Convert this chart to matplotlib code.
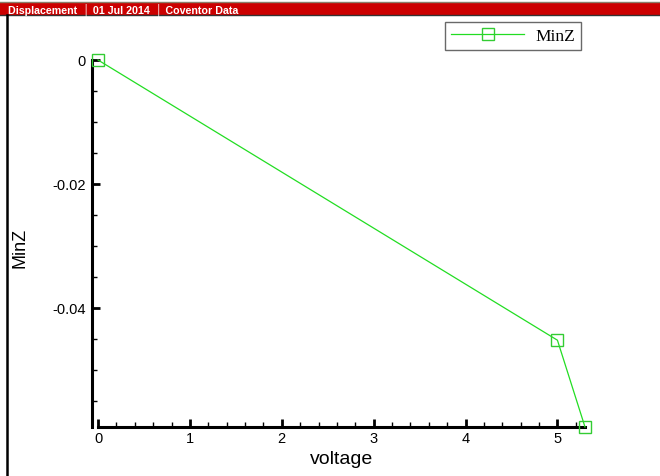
import matplotlib
matplotlib.use("Agg")
import matplotlib.pyplot as plt
from matplotlib.patches import Rectangle
from matplotlib.lines import Line2D
from matplotlib.ticker import MultipleLocator

voltage = [0.0, 5.0, 5.3]
minz = [0.0, -0.0452, -0.0592]
series_name = "MinZ"
x_label = "voltage"
y_label = "MinZ"
header = "Displacement  \u2502 01 Jul 2014  \u2502 Coventor Data"

W, H = 660, 477
fig = plt.figure(figsize=(W / 100, H / 100), dpi=100)
fig.patch.set_facecolor("white")

def fx(px):
    return px / W

def fy(py):
    return 1 - py / H

# header bar
fig.patches.append(Rectangle((0, fy(16)), 1, (13) / H, transform=fig.transFigure,
                             facecolor="#CC0000", edgecolor="none", zorder=0))
fig.lines.append(Line2D([0, 1], [fy(2.5), fy(2.5)], transform=fig.transFigure,
                        color="#8a7f6a", lw=1.0))
fig.lines.append(Line2D([0, 1], [fy(16), fy(16)], transform=fig.transFigure,
                        color="#333333", lw=1.0))
fig.lines.append(Line2D([fx(7), fx(7)], [0, fy(16)], transform=fig.transFigure,
                        color="black", lw=1.8))
fig.text(fx(8), fy(10), header, color="white", fontsize=7.7, fontweight="bold",
         family="Liberation Sans", va="center", ha="left")

left, right, top, bottom = 98, 585, 61, 428
ax = fig.add_axes([fx(left), fy(bottom), (right - left) / W, (bottom - top) / H])
ax.plot(voltage, minz, color="#22dd22", lw=0.9, marker="s", markersize=8.5,
        markerfacecolor="none", markeredgecolor="#33cc33", markeredgewidth=1.0,
        clip_on=False, label=series_name, zorder=5)
ax.set_xlim(0, 5.3)
ax.set_ylim(-0.0592, 0)

for s in ["top", "right"]:
    ax.spines[s].set_visible(False)
ax.spines["left"].set_position(("outward", 4))
ax.spines["left"].set_linewidth(2.2)
ax.spines["bottom"].set_linewidth(2.2)

ax.xaxis.set_major_locator(MultipleLocator(1))
ax.xaxis.set_minor_locator(MultipleLocator(0.2))
ax.yaxis.set_major_locator(MultipleLocator(0.02))
ax.yaxis.set_minor_locator(MultipleLocator(0.005))
ax.tick_params(axis="both", which="major", direction="in", length=6, width=2,
               labelsize=10.5, pad=3)
ax.tick_params(axis="both", which="minor", direction="in", length=3.5, width=1)
ax.tick_params(axis="y", which="major", pad=5)
ax.set_xticks([0, 1, 2, 3, 4, 5])
ax.set_xticklabels(["0", "1", "2", "3", "4", "5"], family="Liberation Sans")
ax.set_yticks([0, -0.02, -0.04])
ax.set_yticklabels(["0", "-0.02", "-0.04"], family="Liberation Sans")

fig.text(fx(342), fy(460), x_label, family="Liberation Sans", fontsize=14,
         ha="center", va="center")
fig.text(fx(20), fy(248), y_label, family="Liberation Sans", fontsize=13,
         ha="center", va="center", rotation=90)

leg = ax.legend(loc="upper left", bbox_to_anchor=(fx(445), fy(23)),
                bbox_transform=fig.transFigure, frameon=True, fancybox=False,
                prop={"family": "Liberation Serif", "size": 12.5},
                handlelength=4.2, borderpad=0.35, handletextpad=0.65, borderaxespad=0)
leg.get_frame().set_edgecolor("#444444")
leg.get_frame().set_linewidth(1.0)

fig.savefig("out.png", dpi=100, facecolor="white")
